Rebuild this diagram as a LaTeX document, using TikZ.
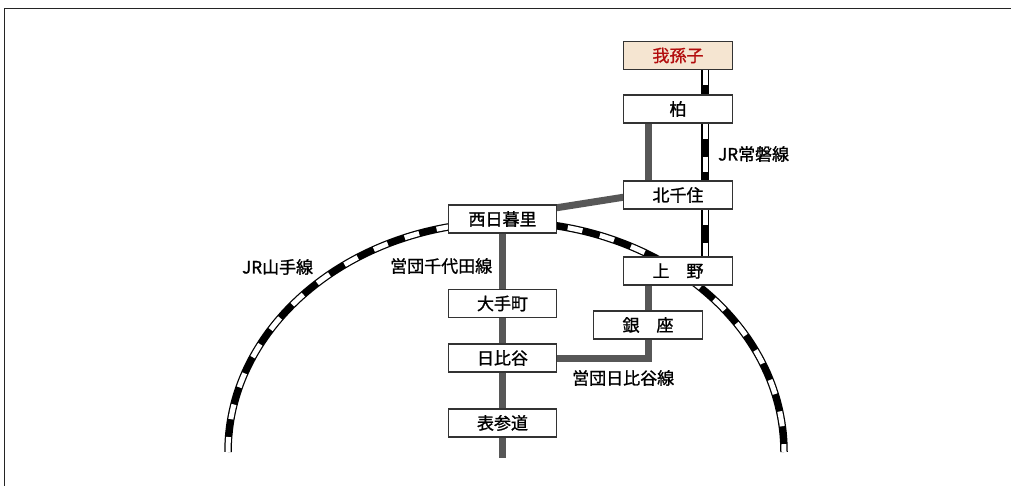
\documentclass[tikz,border=0pt]{standalone}
\usepackage{fontspec}
\newfontfamily\jpfont[FakeBold=1.2]{Noto Sans CJK JP}
\usetikzlibrary{backgrounds}

\begin{document}
\begin{tikzpicture}[x=1pt,y=-1pt,
  station/.style={draw=boxline,line width=1.2pt,fill=white,minimum width=108pt,minimum height=28pt,inner sep=0pt,font=\jpfont\fontsize{17pt}{17pt}\selectfont},
  metro/.style={draw=metrogray,line width=7pt},
  jrline/.style={draw=black,line width=7.5pt,postaction={draw=white,line width=5pt,dash pattern=on 15pt off 18pt}},
  linelabel/.style={font=\jpfont\fontsize{17pt}{17pt}\selectfont,inner sep=0pt,anchor=west}]

\definecolor{metrogray}{rgb}{0.34,0.34,0.34}
\definecolor{boxline}{rgb}{0.2,0.2,0.2}
\definecolor{abikofill}{rgb}{0.96,0.9,0.82}
\definecolor{abikored}{rgb}{0.7,0.05,0.05}

\useasboundingbox (0,0) rectangle (1011,486);
\draw[line width=1.5pt,color=boxline!70!black](4.5,486)--(4.5,8.5)--(1011,8.5);

% yamanote loop
\draw[jrline](228,452) arc[start angle=180,end angle=0,x radius=278pt,y radius=230pt];

% stations
\node[station,fill=abikofill,text=abikored,minimum width=109pt] (abiko) at (678,55.5) {我孫子};
\node[station,minimum width=109pt] (kashiwa) at (678,109) {柏};
\node[station,minimum width=109pt] (kitasenju) at (678,195) {北千住};
\node[station,minimum width=109pt] (ueno) at (678,271) {上　野};
\node[station,minimum width=109pt] (ginza) at (648,325) {銀　座};
\node[station] (nishinippori) at (502.5,219) {西日暮里};
\node[station] (otemachi) at (502.5,303.5) {大手町};
\node[station] (hibiya) at (502.5,358) {日比谷};
\node[station] (omotesando) at (502.5,423) {表参道};

\coordinate (jb) at (705,0);
\coordinate (kx) at (648,0);
\coordinate (chiyodaend) at (502.5,458);

% lines
\begin{pgfonlayer}{background}
\draw[jrline](abiko.south -| jb)--(kashiwa.north -| jb);
\draw[jrline](kashiwa.south -| jb)--(kitasenju.north -| jb);
\draw[jrline](kitasenju.south -| jb)--(ueno.north -| jb);

\draw[metro](kashiwa.south -| kx)--(kitasenju.north -| kx);
\draw[metro]([yshift=11pt,xshift=-2pt]nishinippori.east)--([yshift=-2pt,xshift=2pt]kitasenju.west);
\draw[metro](nishinippori.south)--(otemachi.north);
\draw[metro](otemachi.south)--(hibiya.north);
\draw[metro](hibiya.south)--(omotesando.north);
\draw[metro](omotesando.south)--(chiyodaend);

\draw[metro](ueno.south -| ginza.north)--(ginza.north);
\draw[metro](ginza.south)|-(hibiya.east);
\end{pgfonlayer}

% line names
\node[linelabel] (joban) at (718,154) {JR常磐線};
\node[linelabel] (yamanote) at (242,267) {JR山手線};
\node[linelabel] (chiyoda) at (390,266) {営団千代田線};
\node[linelabel] (hibiyasen) at (572,378) {営団日比谷線};

\end{tikzpicture}
\end{document}
